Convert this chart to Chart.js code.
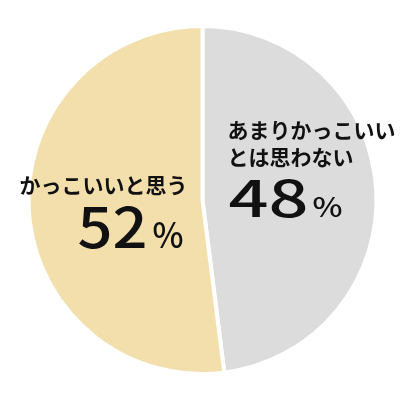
<!DOCTYPE html>
<html lang="ja">
<head>
    <meta charset="UTF-8">
    <title>かっこいいと思う？</title>
    <script src="https://cdn.jsdelivr.net/npm/chart.js"></script>
    <style>
        html, body {
            margin: 0;
            padding: 0;
            background: #ffffff;
        }
        .chart-container {
            width: 400px;
            height: 400px;
        }
    </style>
</head>
<body>
    <div class="chart-container">
        <canvas id="pieChart"></canvas>
    </div>

    <script>
        // Données du graphique
        const labels = ["あまりかっこいいとは思わない", "かっこいいと思う"];
        const labelLines = [["あまりかっこいい", "とは思わない"], ["かっこいいと思う"]];
        const values = [48, 52];
        const colors = ["#dcdcdc", "#f3dfac"];

        // dessine un texte étiré pour tenir dans la largeur voulue
        function stretchText(ctx, text, x, y, size, width) {
            ctx.font = '500 ' + size + 'px "Noto Sans CJK JP"';
            const w = ctx.measureText(text).width;
            ctx.save();
            ctx.translate(x, y);
            ctx.scale(width / w, 1);
            ctx.fillText(text, 0, 0);
            ctx.restore();
        }

        // Étiquettes dessinées dans chaque part
        const sliceLabels = {
            id: 'sliceLabels',
            afterDatasetsDraw(chart) {
                const ctx = chart.ctx;
                const arc = chart.getDatasetMeta(0).data[0];
                const cx = arc.x, cy = arc.y;

                // positions relative to the pie centre
                const places = [
                    { lines: [[25, -70], [25, -43]], num: [26, 17, 50, 80], pct: [110, 17, 27, 30] },
                    { lines: [[-183, -15]], num: [-125, 48, 56, 70], pct: [-50, 48, 35, 31] }
                ];

                ctx.save();
                ctx.fillStyle = '#111111';
                values.forEach((v, i) => {
                    const p = places[i];
                    ctx.font = 'bold 21px "Noto Sans CJK JP"';
                    ctx.textAlign = 'left';
                    ctx.textBaseline = 'middle';
                    labelLines[i].forEach((line, j) => {
                        ctx.fillText(line, cx + p.lines[j][0], cy + p.lines[j][1]);
                    });

                    ctx.textBaseline = 'alphabetic';
                    stretchText(ctx, String(v), cx + p.num[0], cy + p.num[1], p.num[2], p.num[3]);
                    stretchText(ctx, '%', cx + p.pct[0], cy + p.pct[1], p.pct[2], p.pct[3]);
                });
                ctx.restore();
            }
        };

        const pieCtx = document.getElementById('pieChart').getContext('2d');
        new Chart(pieCtx, {
            type: 'pie',
            data: {
                labels: labels,
                datasets: [{
                    data: values,
                    backgroundColor: colors,
                    borderColor: '#ffffff',
                    borderWidth: 4
                }]
            },
            options: {
                responsive: true,
                maintainAspectRatio: false,
                animation: false,
                layout: {
                    padding: { left: 26.5, right: 21.5, top: 24, bottom: 24 }
                },
                plugins: {
                    legend: { display: false },
                    tooltip: { enabled: false }
                }
            },
            plugins: [sliceLabels]
        });
    </script>
</body>
</html>
